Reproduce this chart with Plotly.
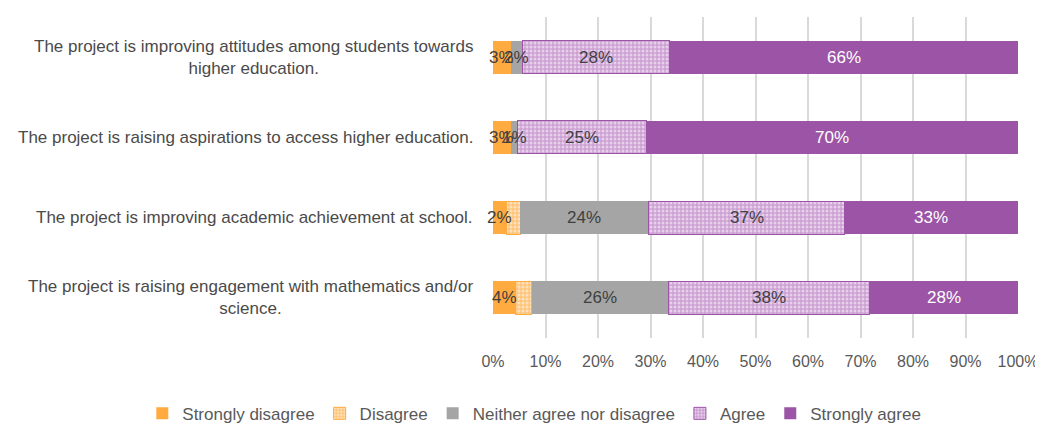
import plotly.graph_objects as go
import numpy as np

categories = [
    "The project is improving attitudes among students towards<br>higher education.",
    "The project is raising aspirations to access higher education.",
    "The project is improving academic achievement at school.",
    "The project is raising engagement with mathematics and/or<br>science.",
]
series_names = ["Strongly disagree", "Disagree", "Neither agree nor disagree", "Agree", "Strongly agree"]
strongly_disagree = [3.4, 3.4, 2.5, 4.2]
disagree = [0.0, 0.0, 2.7, 3.2]
neither = [2.3, 1.3, 24.4, 26.0]
agree = [28.0, 24.6, 37.4, 38.3]
strongly_agree = [66.3, 70.7, 33.0, 28.3]

labels_sd = ["3%", "3%", "2%", "4%"]
labels_d = ["", "", "", ""]
labels_n = ["2%", "1%", "24%", "26%"]
labels_a = ["28%", "25%", "37%", "38%"]
labels_sa = ["66%", "70%", "33%", "28%"]

tick_vals = [0, 10, 20, 30, 40, 50, 60, 70, 80, 90, 100]
tick_text = ["0%", "10%", "20%", "30%", "40%", "50%", "60%", "70%", "80%", "90%", "100%"]

FONT = "Liberation Sans, Arial, sans-serif"
ORANGE = "#FFAB40"
GRAY = "#A5A5A5"
PURPLE = "#9C55A6"

styles = [
    dict(color=ORANGE, line=dict(width=0)),
    dict(color="#FFD8A6", line=dict(color=ORANGE, width=1),
         pattern=dict(shape=".", fgcolor="#FFFFFF", bgcolor="#FFC57A", size=4, solidity=0.45)),
    dict(color=GRAY, line=dict(width=0)),
    dict(color="#E0C4E4", line=dict(color=PURPLE, width=1),
         pattern=dict(shape=".", fgcolor="#FFFFFF", bgcolor="#CDA0D4", size=4, solidity=0.45)),
    dict(color=PURPLE, line=dict(width=0)),
]

data = [strongly_disagree, disagree, neither, agree, strongly_agree]
labels = [labels_sd, labels_d, labels_n, labels_a, labels_sa]
label_colors = ["#404040", "#404040", "#404040", "#404040", "#FFFFFF"]

fig = go.Figure()
for name, vals, st in zip(series_names, data, styles):
    fig.add_trace(go.Bar(
        y=categories, x=vals, name=name, orientation="h",
        marker=st, width=0.41, hoverinfo="x+name",
    ))

cum = np.zeros(len(categories))
annotations = []
for vals, labs, col in zip(data, labels, label_colors):
    vals = np.array(vals)
    centers = cum + vals / 2
    for cat, c, lab in zip(categories, centers, labs):
        if lab:
            annotations.append(dict(x=c, y=cat, xref="x", yref="y", text=lab, showarrow=False,
                                    font=dict(family=FONT, size=17, color=col)))
    cum = cum + vals

for cat in categories:
    annotations.append(dict(x=0, y=cat, xref="paper", yref="y", text=cat, showarrow=False,
                            xanchor="right", xshift=-18, align="center",
                            font=dict(family=FONT, size=17, color="#4A4A4A")))

# the page body adds an 8px offset, so the figure is 8px smaller in each direction
fig.update_layout(
    barmode="stack",
    width=1035, height=417,
    margin=dict(l=485, r=25, t=9, b=87, autoexpand=False),
    plot_bgcolor="white", paper_bgcolor="white",
    font=dict(family=FONT, size=16, color="#595959"),
    xaxis=dict(range=[0, 100], tickvals=tick_vals, ticktext=tick_text, showgrid=True,
               gridcolor="#D9D9D9", gridwidth=1.5, zeroline=False, showline=False, automargin=False,
               tickfont=dict(family=FONT, size=16, color="#595959"), ticks="", ticklabelstandoff=12),
    yaxis=dict(categoryorder="array", categoryarray=categories, autorange="reversed",
               showticklabels=False, showgrid=False, zeroline=False, automargin=False),
    legend=dict(orientation="h", xref="paper", yref="paper", x=-0.668, xanchor="left",
                y=-0.18, yanchor="top", font=dict(family=FONT, size=17, color="#595959"),
                traceorder="normal", itemwidth=30),
    annotations=annotations,
    showlegend=True,
)

fig.write_html("out.html")
